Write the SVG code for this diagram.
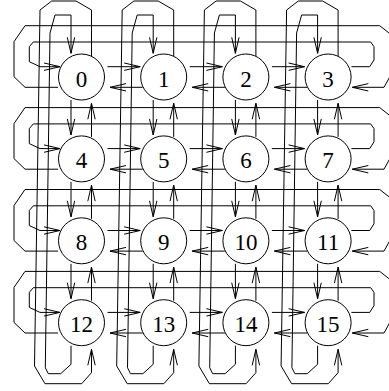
<svg xmlns="http://www.w3.org/2000/svg" width="389" height="391" viewBox="0 0 389 391">
<style>
.c{fill:none;stroke:#000;stroke-width:1;marker-end:url(#ah)}
.n circle{fill:#fff;stroke:#000;stroke-width:1}
.n text{font-family:"Liberation Serif","Times New Roman",serif;font-size:23px;text-anchor:middle;fill:#000}
</style>
<defs>
<marker id="ah" viewBox="0 0 16 8" refX="16" refY="4" markerWidth="16" markerHeight="8" markerUnits="userSpaceOnUse" orient="auto" overflow="visible">
<path d="M0,0.3 L16,4 L0,7.7" fill="none" stroke="#000" stroke-width="1"/>
</marker>
</defs>
<rect width="389" height="391" fill="#fff"/>
<g id="connectors">
<!-- vertical links between rows -->
<path class="c" d="M71,100 V134.9"/><path class="c" d="M71,181.9 V216.8"/><path class="c" d="M71,263.8 V298.7"/>
<path class="c" d="M91.5,136.9 V103.3"/><path class="c" d="M91.5,218.8 V185.2"/><path class="c" d="M91.5,300.7 V267.1"/>
<path class="c" d="M153.2,100 V134.9"/><path class="c" d="M153.2,181.9 V216.8"/><path class="c" d="M153.2,263.8 V298.7"/>
<path class="c" d="M173.7,136.9 V103.3"/><path class="c" d="M173.7,218.8 V185.2"/><path class="c" d="M173.7,300.7 V267.1"/>
<path class="c" d="M235.4,100 V134.9"/><path class="c" d="M235.4,181.9 V216.8"/><path class="c" d="M235.4,263.8 V298.7"/>
<path class="c" d="M255.9,136.9 V103.3"/><path class="c" d="M255.9,218.8 V185.2"/><path class="c" d="M255.9,300.7 V267.1"/>
<path class="c" d="M317.6,100 V134.9"/><path class="c" d="M317.6,181.9 V216.8"/><path class="c" d="M317.6,263.8 V298.7"/>
<path class="c" d="M338.1,136.9 V103.3"/><path class="c" d="M338.1,218.8 V185.2"/><path class="c" d="M338.1,300.7 V267.1"/>
<!-- vertical wrap-around -->
<path class="c" d="M71,345.7 V364.3 L60.7,373.7 H48.3 L45.3,367.7 L50,33 L55,15 H71 V53.3"/>
<path class="c" d="M153.2,345.7 V364.3 L142.9,373.7 H130.5 L127.5,367.7 L132.2,33 L137.2,15 H153.2 V53.3"/>
<path class="c" d="M235.4,345.7 V364.3 L225.1,373.7 H212.7 L209.7,367.7 L214.4,33 L219.4,15 H235.4 V53.3"/>
<path class="c" d="M317.6,345.7 V364.3 L307.3,373.7 H294.9 L291.9,367.7 L296.6,33 L301.6,15 H317.6 V53.3"/>
<path class="c" d="M91.5,56 V10 L76,1 H51.7 L40,10 L34.5,366 L45,383.7 H81.7 L91.5,372.7 V349.3"/>
<path class="c" d="M173.7,56 V10 L158.2,1 H133.9 L122.2,10 L116.7,366 L127.2,383.7 H163.9 L173.7,372.7 V349.3"/>
<path class="c" d="M255.9,56 V10 L240.4,1 H216.1 L204.4,10 L198.9,366 L209.4,383.7 H246.1 L255.9,372.7 V349.3"/>
<path class="c" d="M338.1,56 V10 L322.6,1 H298.3 L286.6,10 L281.1,366 L291.6,383.7 H328.3 L338.1,372.7 V349.3"/>
<!-- horizontal links between columns -->
<path class="c" d="M107.5,66.7 H140.2"/><path class="c" d="M189.7,66.7 H222.4"/><path class="c" d="M271.9,66.7 H304.6"/>
<path class="c" d="M142.7,87.3 H110"/><path class="c" d="M224.9,87.3 H192.2"/><path class="c" d="M307.1,87.3 H274.4"/>
<path class="c" d="M107.5,148.6 H140.2"/><path class="c" d="M189.7,148.6 H222.4"/><path class="c" d="M271.9,148.6 H304.6"/>
<path class="c" d="M142.7,169.2 H110"/><path class="c" d="M224.9,169.2 H192.2"/><path class="c" d="M307.1,169.2 H274.4"/>
<path class="c" d="M107.5,230.5 H140.2"/><path class="c" d="M189.7,230.5 H222.4"/><path class="c" d="M271.9,230.5 H304.6"/>
<path class="c" d="M142.7,251.1 H110"/><path class="c" d="M224.9,251.1 H192.2"/><path class="c" d="M307.1,251.1 H274.4"/>
<path class="c" d="M107.5,312.4 H140.2"/><path class="c" d="M189.7,312.4 H222.4"/><path class="c" d="M271.9,312.4 H304.6"/>
<path class="c" d="M142.7,333 H110"/><path class="c" d="M224.9,333 H192.2"/><path class="c" d="M307.1,333 H274.4"/>
<!-- horizontal wrap-around -->
<path class="c" d="M351.4,66.7 H369.7 L374,60 V46.7 L370.7,42 H33.3 L29.3,46.7 V61.7 L40,66.7 H60"/>
<path class="c" d="M351.4,148.6 H369.7 L374,141.9 V128.6 L370.7,123.9 H33.3 L29.3,128.6 V143.6 L40,148.6 H60"/>
<path class="c" d="M351.4,230.5 H369.7 L374,223.8 V210.5 L370.7,205.8 H33.3 L29.3,210.5 V225.5 L40,230.5 H60"/>
<path class="c" d="M351.4,312.4 H369.7 L374,305.7 V292.4 L370.7,287.7 H33.3 L29.3,292.4 V307.4 L40,312.4 H60"/>
<path class="c" d="M58,87.3 H25 L14,76.7 V41.7 L25,25.7 H379.7 L395,37.7 V67.5 L384,87.3 H352.3"/>
<path class="c" d="M58,169.2 H25 L14,158.6 V123.6 L25,107.6 H379.7 L395,119.6 V149.4 L384,169.2 H352.3"/>
<path class="c" d="M58,251.1 H25 L14,240.5 V205.5 L25,189.5 H379.7 L395,201.5 V231.3 L384,251.1 H352.3"/>
<path class="c" d="M58,333 H25 L14,322.4 V287.4 L25,271.4 H379.7 L395,283.4 V313.2 L384,333 H352.3"/>
</g>
<g id="node-0" class="n"><circle cx="81.5" cy="77" r="23"/><text x="81.5" y="86.5">0</text></g>
<g id="node-1" class="n"><circle cx="163.7" cy="77" r="23"/><text x="163.7" y="86.5">1</text></g>
<g id="node-2" class="n"><circle cx="245.9" cy="77" r="23"/><text x="245.9" y="86.5">2</text></g>
<g id="node-3" class="n"><circle cx="328.1" cy="77" r="23"/><text x="328.1" y="86.5">3</text></g>
<g id="node-4" class="n"><circle cx="81.5" cy="158.9" r="23"/><text x="81.5" y="168.4">4</text></g>
<g id="node-5" class="n"><circle cx="163.7" cy="158.9" r="23"/><text x="163.7" y="168.4">5</text></g>
<g id="node-6" class="n"><circle cx="245.9" cy="158.9" r="23"/><text x="245.9" y="168.4">6</text></g>
<g id="node-7" class="n"><circle cx="328.1" cy="158.9" r="23"/><text x="328.1" y="168.4">7</text></g>
<g id="node-8" class="n"><circle cx="81.5" cy="240.8" r="23"/><text x="81.5" y="250.3">8</text></g>
<g id="node-9" class="n"><circle cx="163.7" cy="240.8" r="23"/><text x="163.7" y="250.3">9</text></g>
<g id="node-10" class="n"><circle cx="245.9" cy="240.8" r="23"/><text x="245.9" y="250.3">10</text></g>
<g id="node-11" class="n"><circle cx="328.1" cy="240.8" r="23"/><text x="328.1" y="250.3">11</text></g>
<g id="node-12" class="n"><circle cx="81.5" cy="322.7" r="23"/><text x="81.5" y="332.2">12</text></g>
<g id="node-13" class="n"><circle cx="163.7" cy="322.7" r="23"/><text x="163.7" y="332.2">13</text></g>
<g id="node-14" class="n"><circle cx="245.9" cy="322.7" r="23"/><text x="245.9" y="332.2">14</text></g>
<g id="node-15" class="n"><circle cx="328.1" cy="322.7" r="23"/><text x="328.1" y="332.2">15</text></g>
</svg>
